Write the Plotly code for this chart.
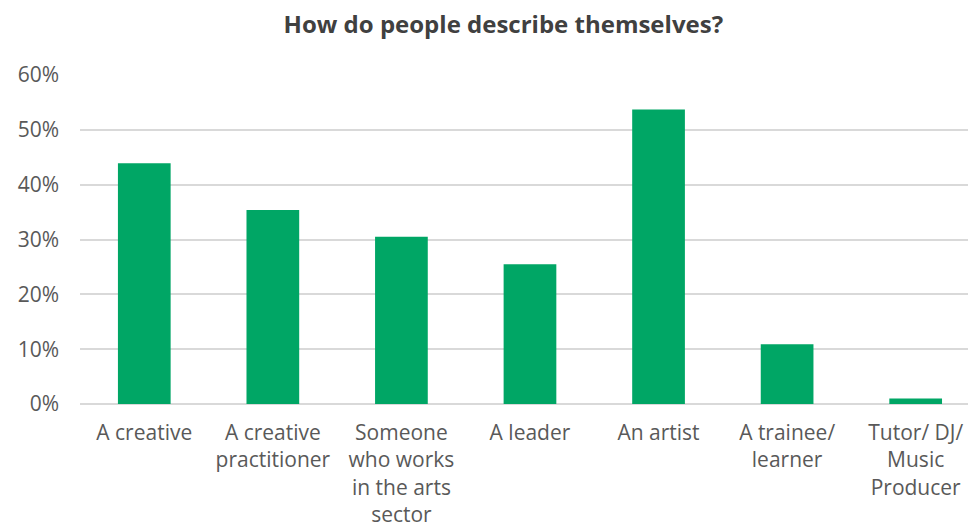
import plotly.graph_objects as go

categories = ["A creative", "A creative practitioner", "Someone who works in the arts sector",
              "A leader", "An artist", "A trainee/ learner", "Tutor/ DJ/ Music Producer"]
tick_labels = ["A creative", "A creative<br>practitioner", "Someone<br>who works<br>in the arts<br>sector",
               "A leader", "An artist", "A trainee/<br>learner", "Tutor/ DJ/<br>Music<br>Producer"]
values = [0.439, 0.354, 0.305, 0.255, 0.537, 0.109, 0.010]
y_ticks = [0, 0.1, 0.2, 0.3, 0.4, 0.5, 0.6]

fig = go.Figure(go.Bar(
    x=categories, y=values,
    marker=dict(color="#00A665", line=dict(width=0)),
    hoverinfo="x+y",
))

fig.update_layout(
    width=968, height=532,
    margin=dict(l=80, r=0, t=75, b=128),
    paper_bgcolor="white", plot_bgcolor="white",
    bargap=0.59,
    showlegend=False,
    title=dict(text="<b>How do people describe themselves?</b>", x=0.52, xanchor="center",
               y=0.953, yanchor="middle",
               font=dict(family="Open Sans", size=24, color="#404040")),
    font=dict(family="Open Sans", size=20, color="#595959"),
)
fig.update_xaxes(
    tickmode="array", tickvals=categories, ticktext=tick_labels,
    range=[-0.5, 6.407], showgrid=False, showline=False, ticks="",
    ticklabelstandoff=14,
    tickfont=dict(family="Open Sans", size=21, color="#595959"),
)
fig.update_yaxes(
    range=[0, 0.6], tickvals=y_ticks, tickformat=".0%",
    showgrid=True, gridcolor="#D9D9D9", gridwidth=1.5,
    zeroline=True, zerolinecolor="#D9D9D9", zerolinewidth=1.5,
    showline=False, ticks="", ticklabelstandoff=20,
    tickfont=dict(family="Open Sans", size=21, color="#595959"),
)

fig.write_html("out.html")
